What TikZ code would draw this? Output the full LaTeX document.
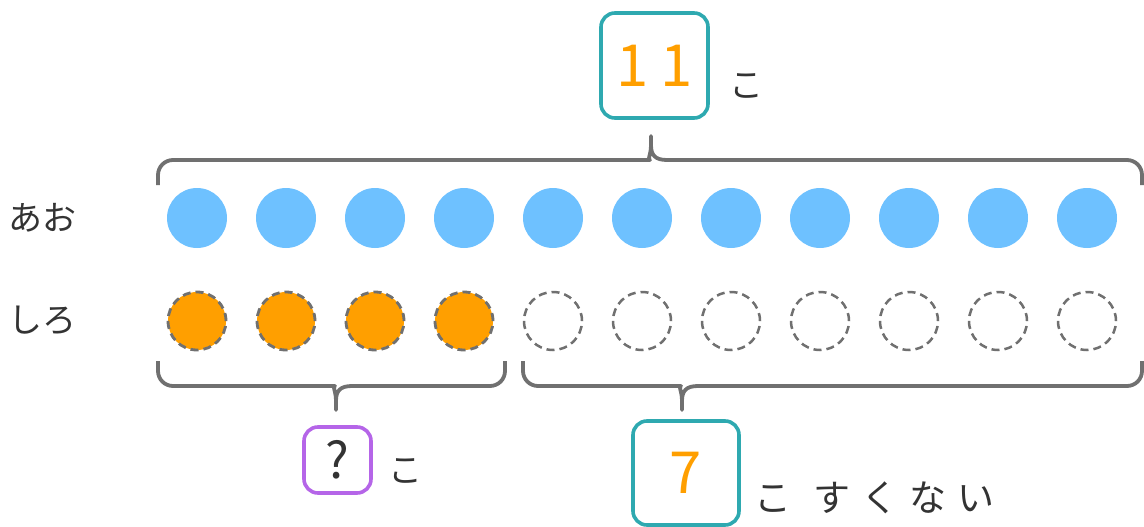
\documentclass[tikz,border=0pt]{standalone}
\usepackage{fontspec}
\newfontfamily\jp{Noto Sans CJK JP}
\definecolor{skyb}{HTML}{6EC1FF}
\definecolor{orng}{HTML}{FF9F00}
\definecolor{braceg}{HTML}{707070}
\definecolor{tealb}{HTML}{2EA9B0}
\definecolor{purpb}{HTML}{B565E8}
\definecolor{txt}{HTML}{333333}
\tikzset{
  bluedot/.style={circle,fill=skyb,minimum size=60pt,inner sep=0pt},
  orangedot/.style={circle,fill=orng,draw=braceg,line width=2.8pt,dash pattern=on 8pt off 5pt,minimum size=58pt,inner sep=0pt},
  emptydot/.style={circle,draw=braceg,line width=2.5pt,dash pattern=on 8pt off 5pt,minimum size=58pt,inner sep=0pt},
  bracepath/.style={draw=braceg,line width=3.8pt,line join=round},
  numbox/.style={draw=#1,line width=3.6pt,rounded corners=14pt,inner sep=0pt},
  lbl/.style={text=txt,font=\jp\fontsize{34}{36}\selectfont,inner sep=0pt},
}
\begin{document}
\begin{tikzpicture}[x=1pt,y=-1pt]
\useasboundingbox (0,0) rectangle (1144,527);
% labels
\node[lbl] (ao) at (43,218) {あお};
\node[lbl] (shiro) at (43,320) {しろ};
% dots
\foreach \i in {0,...,10} {
  \node[bluedot] (b\i) at (197+89*\i,218) {};
}
\foreach \i in {0,...,3} {
  \node[orangedot] (o\i) at (197+89*\i,321) {};
}
\foreach \i in {4,...,10} {
  \node[emptydot] (w\i) at (197+89*\i,321) {};
}
% top brace
\path[bracepath] [rounded corners=15pt] (158,185) |- (635,160) [sharp corners]
  .. controls (647,160) and (651,155) .. (651,145) -- (651,136) -- (651,145)
  .. controls (651,155) and (655,160) .. (667,160) [rounded corners=15pt] -| (1142,185);
% bottom left brace
\path[bracepath] [rounded corners=15pt] (158,361) |- (320,386) [sharp corners]
  .. controls (332,386) and (336,391) .. (336,401) -- (336,410) -- (336,401)
  .. controls (336,391) and (340,386) .. (352,386) [rounded corners=15pt] -| (505,361);
% bottom right brace
\path[bracepath] [rounded corners=15pt] (523,361) |- (666,386) [sharp corners]
  .. controls (678,386) and (682,391) .. (682,401) -- (682,410) -- (682,401)
  .. controls (682,391) and (686,386) .. (698,386) [rounded corners=15pt] -| (1142,361);
% boxes
\node[numbox=tealb,minimum width=107pt,minimum height=105pt,text=orng,font=\jp\fontsize{58}{60}\selectfont] (eleven) at (654.5,65.5) {1\hspace{12pt}1};
\node[lbl] (ko1) at (746,86) {こ};
\node[numbox=purpb,minimum width=67pt,minimum height=66pt,text=txt,font=\jp\fontsize{50}{52}\selectfont] (q) at (337.5,460) {?};
\node[lbl] (ko2) at (405,471) {こ};
\node[numbox=tealb,minimum width=106pt,minimum height=104pt,text=orng,font=\jp\fontsize{58}{60}\selectfont] (seven) at (686,473) {7};
\node[lbl,anchor=west,font=\jp\fontsize{37}{40}\selectfont] (sukunai) at (754,498) {こ\hspace{22pt}す\hspace{11pt}く\hspace{11pt}な\hspace{11pt}い};
\end{tikzpicture}
\end{document}
